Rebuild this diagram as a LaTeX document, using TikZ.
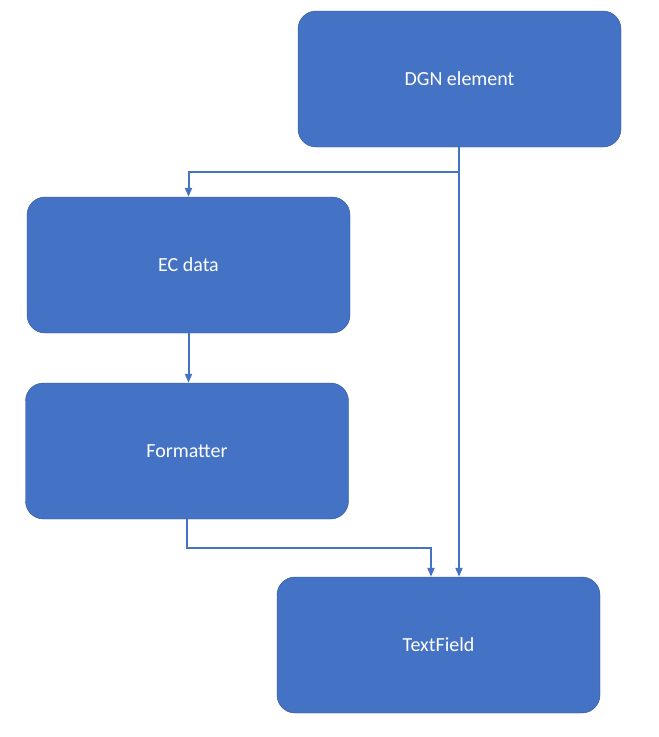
\documentclass[tikz,border=0pt]{standalone}
\usepackage{fontspec}
\setmainfont{Carlito}
\usetikzlibrary{arrows.meta}
\definecolor{boxfill}{HTML}{4472C4}
\definecolor{boxline}{HTML}{2F528F}
\tikzset{
	block/.style = {draw=boxline, fill=boxfill, rounded corners=18pt, minimum width=323pt,
		minimum height=136pt, text=white, font=\fontsize{20}{24}\selectfont},
	link/.style  = {draw=boxfill, line width=2pt, -{Triangle[width=7pt,length=9pt]}}
}
\begin{document}
\begin{tikzpicture}[x=1pt, y=-1pt]
\useasboundingbox (0,0) rectangle (659,737);
% boxes
\node at (459.5,79)[block] (dgn) {DGN element};
\node at (188.5,265)[block] (ec) {EC data};
\node at (187,451)[block] (fmt) {Formatter};
\node at (438.5,645)[block] (tf) {TextField};
\coordinate (split) at (459,172);
\coordinate (fmtin) at (431,548);

\draw[link] (dgn.south -| split) -- (tf.north -| split);
\draw[link] (split) -| (ec.north);
\draw[link] (ec.south) -- (fmt.north -| ec.south);
\draw[link] (fmt.south) |- (fmtin) -- (tf.north -| fmtin);
\end{tikzpicture}
\end{document}
